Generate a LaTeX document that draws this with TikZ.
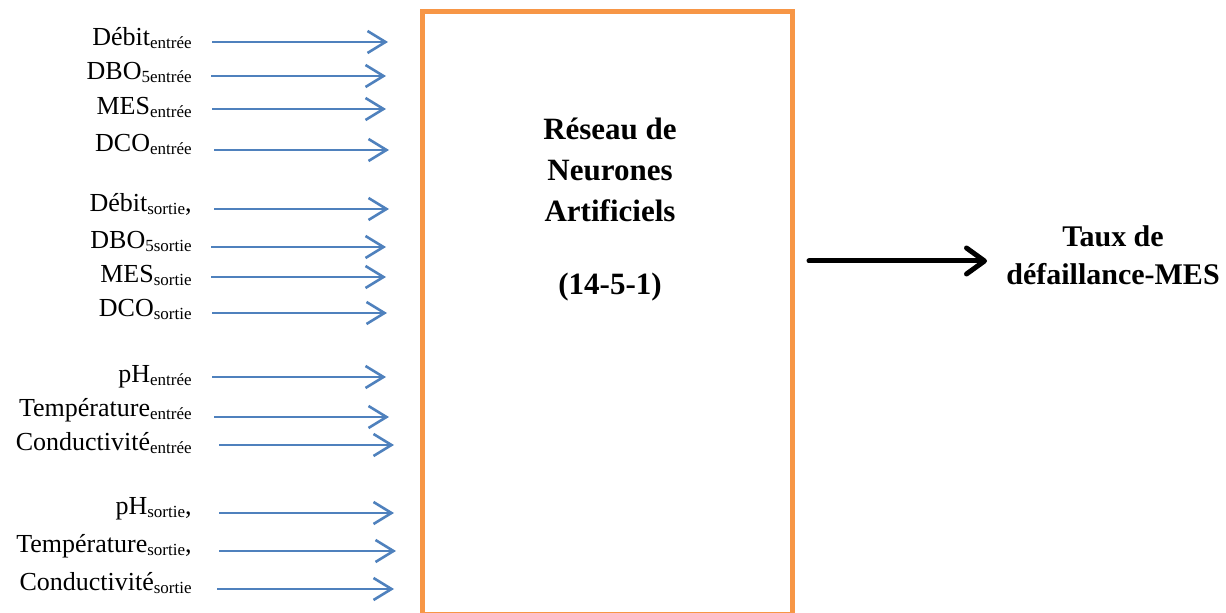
\documentclass[tikz,border=0pt]{standalone}
\usepackage{fontspec}
\setmainfont{Liberation Serif}
\usetikzlibrary{arrows.meta}

\definecolor{netorange}{HTML}{F79646}
\definecolor{inblue}{HTML}{4F81BD}
\newcommand{\subtxt}[1]{\raisebox{-1.5pt}{\fontsize{8.5}{10}\selectfont #1}}

\tikzset{
	inlabel/.style={anchor=base east, inner sep=0pt, font=\fontsize{13}{15}\selectfont},
	inarrow/.style={draw=inblue, line width=1.3pt, -{Straight Barb[length=9pt,width=11pt]}},
	netbox/.style={draw=netorange, line width=2.5pt, fill=white},
	bigtext/.style={align=center, inner sep=0pt, font=\bfseries\fontsize{15.5}{20.5}\selectfont},
	outtext/.style={align=center, inner sep=0pt, font=\bfseries\fontsize{15}{19}\selectfont},
	outarrow/.style={draw=black, line width=2.5pt, line cap=round, -{Straight Barb[length=9pt,width=13pt,round]}}
}

\begin{document}
\begin{tikzpicture}[x=0.5pt,y=-0.5pt]
		\useasboundingbox (0,0) rectangle (1226,613);
		%network (runs off the page at the bottom)
		\node[netbox, minimum width=185pt, minimum height=301.5pt] (ann) at (607,313) {};
		% base of a multi-line node sits on its last line
		\node[bigtext, anchor=base] (anntext) at (610,295) {Réseau de\\Neurones\\Artificiels\\[16pt](14-5-1)};
		%inputs
		\foreach \name/\txt/\by/\ay/\xa/\xb in {
				debitE/Débit\subtxt{entrée}/46/42/212/388,
				dboE/DBO\subtxt{5entrée}/80/76/211/386,
				mesE/MES\subtxt{entrée}/115/109/212/386,
				dcoE/DCO\subtxt{entrée}/152/150/214/389,
				debitS/{Débit\subtxt{sortie},}/212/209/214/389,
				dboS/DBO\subtxt{5sortie}/249/247/211/386,
				mesS/MES\subtxt{sortie}/283/277/211/386,
				dcoS/DCO\subtxt{sortie}/317/313/212/387,
				phE/pH\subtxt{entrée}/383/377/212/386,
				tempE/Température\subtxt{entrée}/417/417/214/389,
				condE/Conductivité\subtxt{entrée}/451/445/219/394,
				phS/{pH\subtxt{sortie},}/515/513/219/394,
				tempS/{Température\subtxt{sortie},}/553/551/219/396,
				condS/Conductivité\subtxt{sortie}/591/589/217/394}{
			\node[inlabel] (\name) at (192,\by) {\txt};
			\coordinate (\name-a) at (\xa,\ay);
			\coordinate (\name-b) at (\xb,\ay);
			\draw[inarrow] (\name-a) -- (\name-b);
		}
		%output
		\node[outtext, anchor=base] (rate) at (1113,285) {Taux de\\défaillance-MES};
		\coordinate (out-a) at (809,261);
		\coordinate (out-b) at (987,261);
		\draw[outarrow] (out-a) -- (out-b);
\end{tikzpicture}
\end{document}
